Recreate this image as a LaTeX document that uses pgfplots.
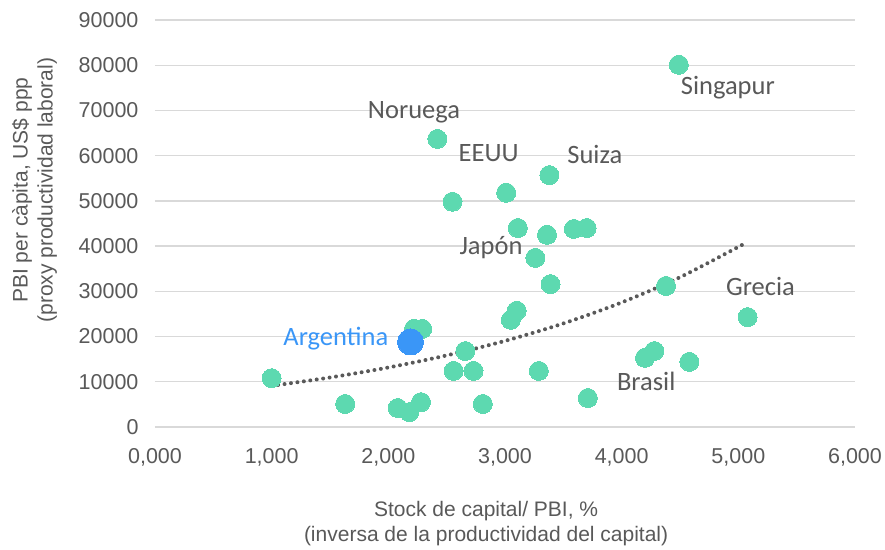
\documentclass[border=0pt]{standalone}
\usepackage{fontspec}
\setmainfont{Liberation Sans}
\newfontfamily\carlito{Carlito}
\usepackage{pgfplots}
\pgfplotsset{compat=1.18}
\definecolor{pt}{HTML}{5DD9B0}
\definecolor{arg}{HTML}{3A96F7}
\definecolor{txt}{HTML}{595959}
\definecolor{gridc}{HTML}{D9D9D9}
\begin{document}
\begin{tikzpicture}[x=1pt,y=1pt]
\begin{axis}[at={(0pt,0pt)}, anchor=south west, scale only axis,
  width=700pt, height=407pt,
  xmin=0, xmax=6, ymin=0, ymax=90000,
  axis line style={draw=none}, major tick length=0pt,
  ymajorgrids, grid style={gridc, line width=1.3pt},
  xtick={0,1,2,3,4,5,6}, ytick={0,10000,...,90000},
  scaled y ticks=false,
  x tick label style={/pgf/number format/fixed, /pgf/number format/fixed zerofill, /pgf/number format/precision=3, /pgf/number format/use comma, yshift=-18pt},
  y tick label style={/pgf/number format/fixed, /pgf/number format/1000 sep={}, xshift=-13pt},
  /pgf/number format/assume math mode=true,
  tick label style={font=\fontsize{21.5}{25}\selectfont, text=txt},
  label style={font=\fontsize{21}{25}\selectfont, text=txt, align=center},
  xlabel={Stock de capital/ PBI, \%\\(inversa de la productividad del capital)},
  xlabel style={at={(axis description cs:0.473,-0.238)}, anchor=center},
  ylabel={PBI per càpita, US\$ ppp\\(proxy productividad laboral)},
  ylabel style={at={(axis description cs:-0.172,0.582)}, anchor=center, rotate=0},
  clip=false,
]
\addplot[only marks, mark=*, mark size=9.5pt, pt, mark options={draw=pt, fill=pt, line width=0pt}] coordinates {
(1.00,10800) (1.63,5100) (2.08,4200) (2.18,3300) (2.28,5500)
(2.22,21700) (2.29,21700) (2.42,63700) (2.55,49800) (2.56,12400)
(2.66,16800) (2.73,12400) (2.81,5100) (3.01,51800) (3.05,23700)
(3.10,25700) (3.11,44000) (3.36,42500) (3.26,37400) (3.29,12400)
(3.38,55700) (3.39,31600) (3.59,43800) (3.70,44000) (3.71,6400)
(4.20,15300) (4.28,16800) (4.38,31200) (4.49,80100) (4.58,14400)
(5.08,24300)
};
\addplot[only marks, mark=*, mark size=13pt, arg, mark options={draw=arg, fill=arg, line width=0pt}] coordinates {(2.19,18800)};
\addplot[color=txt, line width=4pt, line cap=round, dash pattern=on 0pt off 6.5pt, smooth] coordinates {
(1.0,9100) (1.5,10950) (2.0,13160) (2.5,15830) (3.0,19040) (3.5,22900) (4.0,27540) (4.5,33120) (5.06,40650)
};
\node[font=\carlito\fontsize{26.5}{30}\selectfont, text=txt] at (axis cs:2.22,69600) {Noruega};
\node[font=\carlito\fontsize{26.5}{30}\selectfont, text=txt] at (axis cs:2.86,60500) {EEUU};
\node[font=\carlito\fontsize{26.5}{30}\selectfont, text=txt] at (axis cs:3.77,60300) {Suiza};
\node[font=\carlito\fontsize{26.5}{30}\selectfont, text=txt] at (axis cs:4.91,75000) {Singapur};
\node[font=\carlito\fontsize{26.5}{30}\selectfont, text=txt] at (axis cs:2.88,39700) {Japón};
\node[font=\carlito\fontsize{26.5}{30}\selectfont, text=txt] at (axis cs:5.19,31000) {Grecia};
\node[font=\carlito\fontsize{26.5}{30}\selectfont, text=txt] at (axis cs:4.21,10100) {Brasil};
\node[font=\carlito\fontsize{26.5}{30}\selectfont, text=arg] at (axis cs:1.55,19500) {Argentina};
\end{axis}
\pgfresetboundingbox
\path[use as bounding box] (-155pt,-122pt) rectangle (730pt,427pt);
\end{tikzpicture}
\end{document}
